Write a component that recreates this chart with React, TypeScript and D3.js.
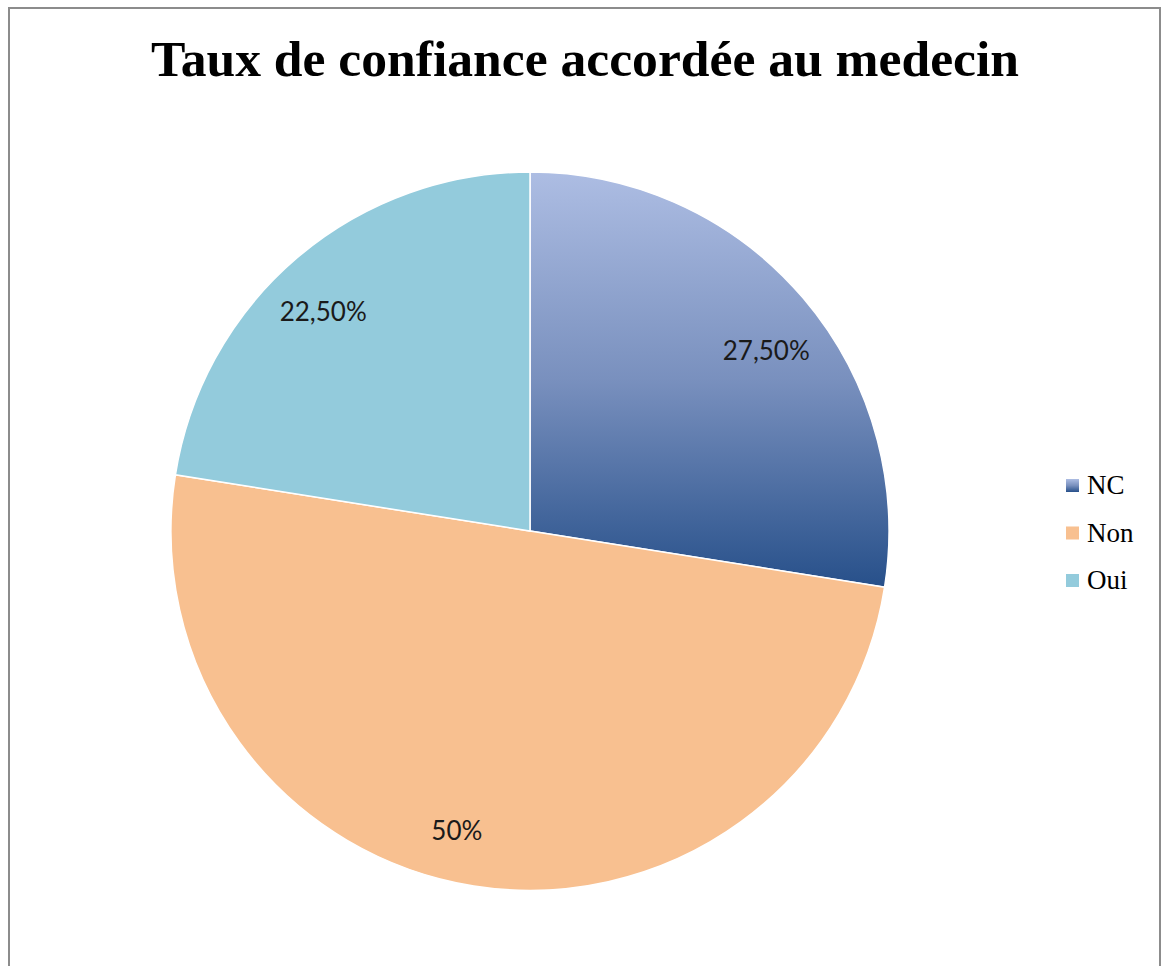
import React from "react";
import * as d3 from "d3";

const categories = ["NC", "Non", "Oui"];
const values = [27.5, 50, 22.5];
const labels = ["27,50%", "50%", "22,50%"];
const colors = ["url(#ncGrad)", "#f8c090", "#93cbdc"];
const title = "Taux de confiance accordée au medecin";

export default function App() {
  const W = 1162, H = 966;
  const cx = 530, cy = 531, r = 359;
  const pie = d3.pie<number>().sort(null).value((d) => d)(values);
  const arc = d3.arc<d3.PieArcDatum<number>>().innerRadius(0).outerRadius(r);
  // label placement tweaks (Excel best-fit style): angle shift in degrees, radius
  const labelShift = [3.2, 4.7, -2.9];
  const labelRadius = [297, 309, 301];
  const legendY = d3.scalePoint<string>().domain(categories).range([485, 580]);
  return (
    <svg width={W} height={H} style={{ position: "absolute", left: 0, top: 0 }}>
      <defs>
        <linearGradient id="ncGrad" x1="0" y1="0" x2="0" y2="1">
          <stop offset="0" stopColor="#adbde3" />
          <stop offset="0.5" stopColor="#7990be" />
          <stop offset="1" stopColor="#27508a" />
        </linearGradient>
      </defs>
      <rect x={0} y={0} width={W} height={H} fill="#fff" />
      <rect x={9} y={8} width={1151} height={970} fill="#fff" stroke="#8c8c8c" strokeWidth={2} />
      <text
        x={585}
        y={76}
        textAnchor="middle"
        fontFamily="'Liberation Serif', 'DejaVu Serif', serif"
        fontWeight="bold"
        fontSize={50}
        textLength={868}
        lengthAdjust="spacingAndGlyphs"
        fill="#000"
      >
        {title}
      </text>
      <g transform={`translate(${cx},${cy})`}>
        {pie.map((p, i) => (
          <path key={categories[i]} d={arc(p) || ""} fill={colors[i]} stroke="#fff" strokeWidth={1.5} />
        ))}
        {pie.map((p, i) => {
          const a = (p.startAngle + p.endAngle) / 2 + (labelShift[i] * Math.PI) / 180;
          const x = Math.sin(a) * labelRadius[i];
          const y = -Math.cos(a) * labelRadius[i];
          return (
            <text
              key={"l" + i}
              x={x}
              y={y}
              dy="0.35em"
              textAnchor="middle"
              fontFamily="Lato, 'Open Sans', sans-serif"
              fontSize={26}
              fill="#1a1a1a"
            >
              {labels[i]}
            </text>
          );
        })}
      </g>
      {categories.map((c, i) => (
        <g key={"lg" + c} transform={`translate(1066,${legendY(c)})`}>
          <rect x={0} y={-6} width={13} height={13} fill={colors[i]} />
          <text
            x={21}
            y={0}
            dy="0.35em"
            fontFamily="'Liberation Serif', 'DejaVu Serif', serif"
            fontSize={27}
            fill="#000"
          >
            {c}
          </text>
        </g>
      ))}
    </svg>
  );
}
